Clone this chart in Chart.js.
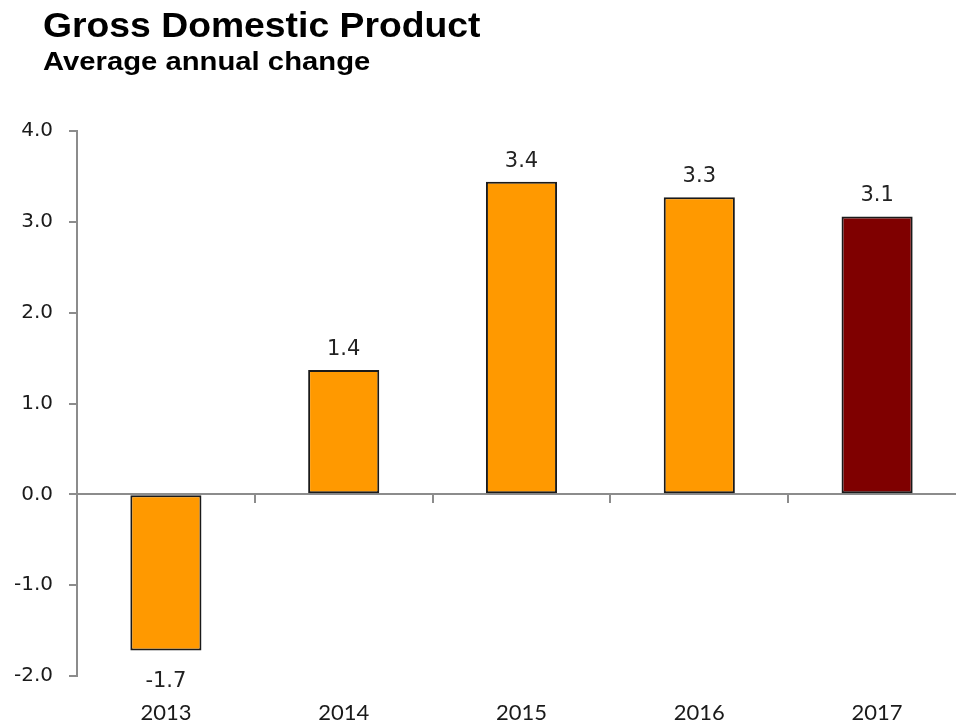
<!DOCTYPE html>
<html lang="en">
<head>
    <meta charset="UTF-8">
    <title>Gross Domestic Product</title>
    <script src="https://cdn.jsdelivr.net/npm/chart.js"></script>
    <style>
        html, body { margin: 0; padding: 0; background: #fff; overflow: hidden; width: 956px; height: 725px; }
        #wrap { position: relative; width: 966px; height: 725px; }
        #gdpChart { position: absolute; left: 0; top: 0; }
        .head { position: absolute; left: 43px; margin: 0; font-family: "Liberation Sans", Arial, sans-serif;
                font-weight: bold; line-height: 1; color: #000; transform-origin: left top; white-space: nowrap; }
        #title { top: 7px; font-size: 35px; transform: scaleX(1.066); }
        #subtitle { top: 49px; font-size: 25px; transform: scaleX(1.17); }
    </style>
</head>
<body>
    <div id="wrap">
        <canvas id="gdpChart" width="966" height="725"></canvas>
        <div class="head" id="title">Gross Domestic Product</div>
        <div class="head" id="subtitle">Average annual change</div>
    </div>

    <script>
        // data
        const years = ['2013', '2014', '2015', '2016', '2017'];
        const gdpChange = [-1.72, 1.37, 3.44, 3.27, 3.06];
        const barColors = ['#ff9900', '#ff9900', '#ff9900', '#ff9900', '#7f0000'];
        const yTicks = [-2, -1, 0, 1, 2, 3, 4];

        const axisGray = '#8c8c8c';

        // value labels above / below each bar
        const valueLabels = {
            id: 'valueLabels',
            afterDatasetsDraw(chart) {
                const ctx = chart.ctx;
                const meta = chart.getDatasetMeta(0);
                ctx.save();
                ctx.font = '21px "DejaVu Sans", sans-serif';
                ctx.fillStyle = '#222';
                ctx.textAlign = 'center';
                meta.data.forEach((bar, i) => {
                    const v = gdpChange[i];
                    const txt = v.toFixed(1);
                    if (v >= 0) {
                        ctx.textBaseline = 'alphabetic';
                        ctx.fillText(txt, bar.x, bar.y - 15);
                    } else {
                        ctx.textBaseline = 'top';
                        ctx.fillText(txt, bar.x, bar.y + 20);
                    }
                });
                ctx.restore();
            }
        };

        const ctx = document.getElementById('gdpChart').getContext('2d');
        const chart = new Chart(ctx, {
            type: 'bar',
            data: {
                labels: years,
                datasets: [{
                    data: gdpChange,
                    backgroundColor: barColors,
                    borderColor: '#1a1a1a',
                    borderWidth: 2,
                    borderSkipped: false,
                    barPercentage: 0.4,
                    categoryPercentage: 1.0
                }]
            },
            options: {
                responsive: false,
                animation: false,
                layout: { padding: { top: 131, left: 0, right: 0, bottom: 0 } },
                plugins: {
                    legend: { display: false },
                    tooltip: { enabled: false }
                },
                scales: {
                    x: {
                        type: 'category',
                        position: 'bottom',
                        border: { display: false },
                        grid: { display: false },
                        ticks: {
                            padding: 16,
                            color: '#1a1a1a',
                            font: { family: 'Lato, sans-serif', size: 22 }
                        },
                        afterFit(s) { s.height = 49; }
                    },
                    x0: {
                        type: 'category',
                        position: { y: 0 },
                        offset: true,
                        border: { display: true, color: axisGray, width: 2 },
                        grid: { drawOnChartArea: false, drawTicks: true, tickLength: 8, color: axisGray, lineWidth: 2, offset: true },
                        ticks: { display: false }
                    },
                    y: {
                        min: yTicks[0],
                        max: yTicks[yTicks.length - 1],
                        afterBuildTicks(s) { s.ticks = yTicks.map(v => ({ value: v })); },
                        border: { display: true, color: axisGray, width: 2 },
                        grid: { drawOnChartArea: false, drawTicks: true, tickLength: 8, color: axisGray, lineWidth: 2 },
                        ticks: {
                            padding: 16,
                            color: '#1a1a1a',
                            font: { family: '"DejaVu Sans", sans-serif', size: 20 },
                            callback: v => Number(v).toFixed(1)
                        },
                        afterFit(s) { s.width = 77; }
                    }
                }
            },
            plugins: [valueLabels]
        });
    </script>
</body>
</html>
